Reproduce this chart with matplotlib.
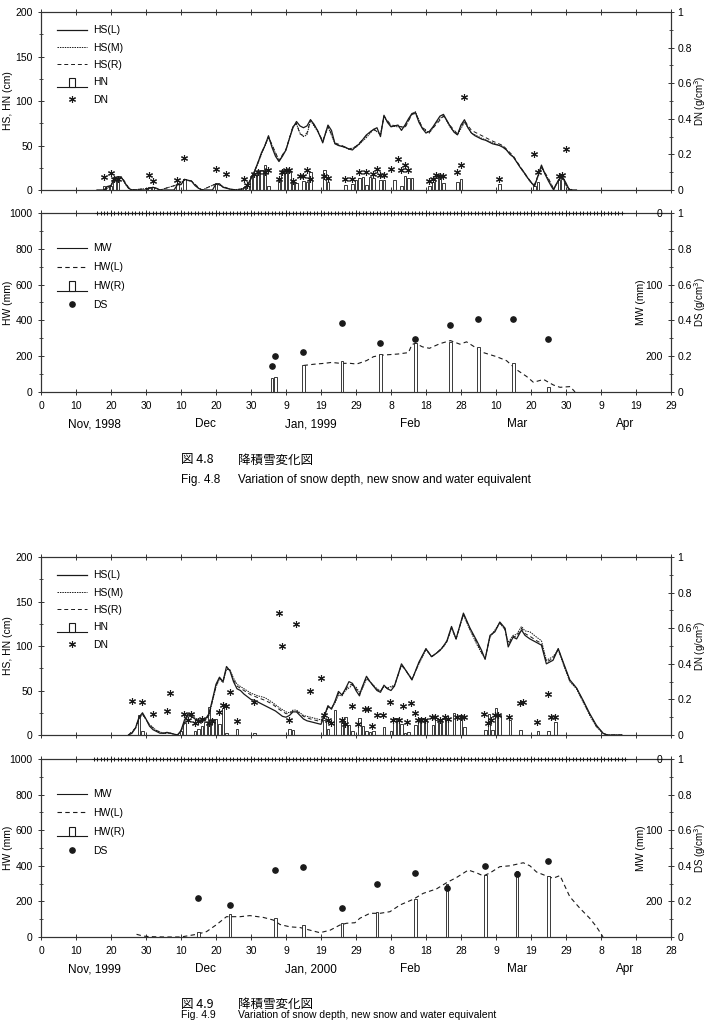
import numpy as np
import matplotlib
matplotlib.use('Agg')
import matplotlib.pyplot as plt
from matplotlib.legend_handler import HandlerBase
from matplotlib.lines import Line2D
from matplotlib.patches import Rectangle
from matplotlib.ticker import MultipleLocator
from matplotlib.transforms import blended_transform_factory

plt.rcParams['font.family'] = ['Liberation Sans', 'DejaVu Sans']
plt.rcParams['font.size'] = 7.5

# day 0 = last day of October

# ---------------- winter 1998-99 ----------------
hs_l_98 = [(16, 0), (18, 0), (19, 4), (20, 5), (21, 14), (22, 15), (23, 14), (24, 8), (25, 2), (26, 0),
           (30, 0), (31, 2), (32, 3), (33, 2), (34, 0), (38, 0), (39, 6), (40, 6), (41, 12), (42, 11),
           (43, 10), (44, 5), (45, 2), (46, 0), (49, 0), (50, 7), (51, 7), (52, 3), (53, 2), (54, 1),
           (56, 0), (57, 0), (58, 2), (59, 5), (60, 13), (61, 21), (62, 31), (63, 42), (64, 50), (65, 61),
           (66, 48), (67, 38), (68, 32), (69, 38), (70, 45), (71, 58), (72, 70), (73, 77), (74, 72), (75, 70),
           (76, 72), (77, 79), (78, 74), (79, 67), (80, 58), (80.5, 53), (81, 60), (82, 73), (83, 67), (84, 52),
           (85, 50), (86, 49), (87, 48), (88, 46), (89, 45), (90, 49), (91, 52), (92, 57), (93, 62), (94, 65),
           (95, 68), (96, 70), (97, 60), (98, 84), (99, 76), (100, 71), (101, 72), (102, 73), (103, 67),
           (104, 73), (105, 80), (106, 86), (107, 87), (108, 76), (109, 69), (110, 64), (111, 66), (112, 71),
           (113, 77), (114, 83), (115, 85), (116, 78), (117, 71), (118, 65), (119, 62), (120, 73), (121, 79),
           (122, 70), (123, 64), (124, 61), (125, 59), (126, 57), (127, 56), (128, 54), (129, 52), (130, 51),
           (131, 50), (132, 48), (133, 45), (134, 40), (135, 37), (136, 31), (137, 25), (138, 20), (139, 14),
           (140, 9), (141, 4), (142, 16), (143, 28), (144, 18), (145, 10), (146, 3), (146.5, 0), (147, 5),
           (148, 12), (149, 15), (150, 8), (151, 0), (153, 0)]
hs_m_98 = [(18, 0), (20, 4), (21, 13), (23, 14), (24, 7), (25, 2), (26, 0), (31, 2), (32, 3), (34, 0),
           (39, 6), (41, 11), (43, 10), (45, 2), (46, 0), (50, 7), (51, 6), (53, 2), (55, 0), (58, 2),
           (59, 5), (61, 20), (63, 40), (65, 59), (66, 50), (68, 33), (70, 45), (72, 72), (73, 74), (74, 64),
           (75, 60), (76, 62), (77, 78), (79, 66), (80.5, 54), (82, 71), (84, 52), (86, 49), (88, 46),
           (90, 48), (93, 59), (95, 68), (97, 63), (98, 82), (100, 72), (102, 71), (104, 71), (106, 85),
           (107, 88), (109, 69), (111, 64), (113, 76), (115, 84), (117, 70), (119, 62), (121, 76), (123, 64),
           (126, 58), (129, 53), (132, 49), (135, 37), (138, 19), (140, 8), (141, 5), (143, 25), (145, 12),
           (146.5, 1), (148, 11), (149, 14), (150.5, 2), (152, 0)]
hs_r_98 = [(18, 0), (20, 5), (21, 14), (23, 15), (24, 9), (25, 3), (26, 0), (31, 2), (32, 3), (34, 0),
           (39, 6), (41, 12), (43, 10), (45, 3), (46, 0), (50, 7), (52, 4), (54, 1), (56, 0), (58, 2),
           (59, 5), (61, 21), (63, 41), (65, 60), (66, 51), (68, 33), (70, 46), (72, 71), (73, 75), (74, 63),
           (75, 61), (76, 64), (77, 79), (79, 67), (80.5, 55), (82, 72), (84, 53), (86, 50), (88, 46),
           (90, 49), (93, 61), (95, 69), (97, 62), (98, 83), (100, 73), (102, 72), (104, 70), (106, 85),
           (107, 86), (109, 70), (111, 65), (113, 74), (115, 83), (117, 72), (119, 63), (121, 78), (123, 67),
           (126, 61), (129, 55), (132, 50), (135, 38), (138, 20), (140, 9), (141, 6), (143, 26), (145, 13),
           (146.5, 1), (148, 12), (149, 15), (150.5, 1), (152, 0)]
hn_98 = [(18, 5), (19, 5), (20, 5), (21, 15), (22, 14), (31, 3), (32, 3), (39, 7), (41, 12), (50, 7),
         (58, 3), (59, 5), (60, 16), (61, 17), (62, 22), (63, 22), (64, 28), (65, 5), (68, 13), (69, 22),
         (70, 20), (71, 20), (72, 11), (73, 8), (75, 10), (76, 9), (77, 20), (81, 22), (82, 9), (87, 6),
         (89, 7), (90, 11), (91, 13), (92, 15), (93, 6), (94, 15), (95, 13), (97, 11), (98, 11), (101, 11),
         (103, 5), (104, 16), (105, 13), (106, 13), (111, 5), (112, 9), (113, 14), (114, 15), (115, 8),
         (119, 9), (120, 12), (131, 7), (141, 5), (142, 9), (148, 11), (149, 12)]
dn_98 = [(18, 0.075), (20, 0.097), (21, 0.06), (22, 0.06), (31, 0.084), (32, 0.05), (39, 0.055),
         (41, 0.18), (50, 0.12), (53, 0.09), (58, 0.06), (59, 0.03), (61, 0.09), (62, 0.1), (64, 0.1),
         (65, 0.11), (68, 0.06), (69, 0.1), (70, 0.11), (71, 0.11), (72, 0.05), (74, 0.08), (75, 0.08),
         (76, 0.11), (77, 0.06), (81, 0.08), (82, 0.065), (87, 0.062), (89, 0.062), (91, 0.1), (93, 0.1),
         (95, 0.09), (96, 0.12), (97, 0.086), (98, 0.086), (100, 0.12), (102, 0.174), (103, 0.11),
         (104, 0.14), (105, 0.11), (111, 0.05), (112, 0.06), (113, 0.085), (114, 0.08), (115, 0.08),
         (119, 0.1), (120, 0.14), (121, 0.52), (131, 0.06), (141, 0.2), (142, 0.1), (148, 0.08),
         (149, 0.085), (150, 0.23)]
hw_l_98 = [(75, 148), (78, 155), (81, 160), (83, 165), (85.5, 160), (88.3, 160), (90.2, 156), (93, 175),
           (95, 197), (97, 205), (102, 212), (105, 220), (106, 265), (107, 272), (109, 252), (111, 244),
           (114, 270), (117, 287), (119.7, 267), (121.6, 280), (124.5, 244), (126.4, 220), (130.2, 197),
           (133, 175), (136, 123), (138.8, 86), (140.7, 54), (143.6, 70), (146.4, 39), (148.3, 26),
           (151.2, 30), (152.6, 0)]
hw_r_98 = [(66, 80), (67, 82), (75, 151), (86, 173), (97, 210), (107, 272), (117, 278), (125, 250),
           (135, 160), (145, 26)]
ds_98 = [(66, 0.145), (67, 0.2), (75, 0.222), (86, 0.385), (97, 0.272), (107, 0.298), (117, 0.374),
         (125, 0.408), (135, 0.408), (145, 0.294)]
mw_days_98 = np.arange(16, 167)
mw_98 = np.zeros(len(mw_days_98))
ticks_98 = ['0', '10', '20', '30', '10', '20', '30', '9', '19', '29', '8', '18', '28',
            '10', '20', '30', '9', '19', '29']
months_98 = ['Nov, 1998', 'Dec', 'Jan, 1999', 'Feb', 'Mar', 'Apr']

# ---------------- winter 1999-2000 ----------------
hs_l_99 = [(25, 0), (26, 2), (27, 8), (28, 20), (29, 25), (30, 18), (31, 10), (32, 6), (33, 4), (34, 2),
           (35, 2), (36, 3), (37, 2), (38, 1), (39, 0), (40, 5), (41, 17), (42, 24), (43, 21), (44, 18),
           (45, 16), (46, 15), (47, 18), (48, 24), (49, 40), (50, 57), (51, 65), (52, 60), (53, 77), (54, 72),
           (55, 60), (56, 52), (57, 50), (58, 46), (59, 43), (60, 40), (61, 39), (62, 37), (63, 35), (64, 33),
           (65, 31), (66, 29), (67, 27), (68, 24), (69, 21), (70, 20), (71, 22), (72, 26), (73, 26), (74, 22),
           (75, 18), (76, 16), (77, 15), (78, 14), (79, 13), (80, 12), (81, 22), (82, 33), (83, 29), (84, 38),
           (85, 49), (86, 45), (87, 52), (88, 60), (89, 58), (90, 50), (91, 44), (91.6, 52), (93, 66),
           (94, 60), (95, 55), (96, 50), (97, 48), (98, 56), (99, 52), (100, 50), (101, 55), (103, 80),
           (104, 74), (105, 68), (106, 62), (108, 82), (110, 97), (111.6, 88), (113, 92), (114, 95),
           (115, 100), (116, 106), (117.3, 122), (118.6, 108), (120.7, 137), (122.6, 120), (124.5, 106),
           (125.9, 95), (126.9, 85), (128.3, 112), (129.7, 116), (131.1, 127), (132.6, 120), (133.5, 99),
           (134.9, 110), (135.9, 108), (137.3, 118), (138.3, 112), (139.7, 108), (141.6, 104), (143, 101),
           (144.4, 80), (146.3, 84), (147.8, 97), (149.2, 82), (151.1, 62), (153, 53), (154.9, 39),
           (156.8, 24), (158.7, 11), (160.6, 2), (161.6, 0), (166, 0)]
hs_m_99 = [(25, 0), (27, 7), (28, 18), (29, 23), (31, 12), (33, 5), (35, 2), (37, 2), (39, 0), (40, 4),
           (42, 22), (44, 19), (46, 16), (47, 17), (48, 22), (49, 38), (50, 54), (51, 63), (52, 59), (53, 74),
           (54, 73), (55, 64), (56, 57), (58, 52), (60, 47), (62, 44), (64, 42), (66, 37), (68, 31), (70, 26),
           (71, 25), (72, 28), (73, 28), (75, 22), (77, 20), (79, 18), (80, 17), (81, 21), (82, 31), (83, 30),
           (84, 36), (85, 45), (86, 44), (87, 50), (88, 53), (89, 56), (90, 54), (91, 48), (91.6, 50),
           (93, 63), (94, 60), (95, 56), (96, 52), (97, 50), (98, 54), (99, 53), (101, 56), (103, 78),
           (104, 74), (106, 63), (108, 80), (110, 96), (111.6, 88), (113, 92), (115, 99), (116, 105),
           (117.3, 120), (118.6, 108), (120.7, 135), (122.6, 118), (124.5, 102), (125.9, 92), (126.9, 86),
           (128.3, 110), (129.7, 118), (131.1, 126), (132.6, 118), (133.5, 104), (134.9, 112), (135.9, 113),
           (137.3, 122), (138.3, 117), (139.7, 116), (141.6, 110), (143, 106), (144.4, 84), (146.3, 88),
           (147.8, 96), (149.2, 80), (151.1, 60), (153, 52), (154.9, 37), (156.8, 22), (158.7, 9),
           (160.6, 2), (162, 0), (166, 0)]
hs_r_99 = [(25, 0), (27, 8), (28, 19), (29, 24), (31, 11), (33, 5), (35, 2), (37, 2), (39, 0), (40, 5),
           (42, 23), (44, 18), (46, 15), (47, 17), (48, 23), (49, 39), (50, 55), (51, 64), (52, 60), (53, 75),
           (54, 73), (55, 62), (56, 55), (58, 50), (60, 45), (62, 42), (64, 39), (66, 35), (68, 29), (70, 24),
           (71, 24), (72, 27), (73, 27), (75, 21), (77, 18), (79, 16), (80, 15), (81, 22), (82, 32), (83, 30),
           (84, 37), (85, 47), (86, 45), (87, 51), (88, 56), (89, 57), (90, 52), (91, 46), (91.6, 51),
           (93, 65), (94, 60), (95, 55), (96, 51), (97, 49), (98, 55), (99, 52), (101, 55), (103, 79),
           (104, 74), (106, 62), (108, 81), (110, 97), (111.6, 88), (113, 92), (115, 100), (116, 105),
           (117.3, 121), (118.6, 108), (120.7, 136), (122.6, 119), (124.5, 104), (125.9, 93), (126.9, 86),
           (128.3, 111), (129.7, 117), (131.1, 126), (132.6, 119), (133.5, 101), (134.9, 111), (135.9, 110),
           (137.3, 120), (138.3, 114), (139.7, 111), (141.6, 106), (143, 103), (144.4, 82), (146.3, 86),
           (147.8, 97), (149.2, 81), (151.1, 61), (153, 53), (154.9, 38), (156.8, 23), (158.7, 10),
           (160.6, 2), (162, 0), (166, 0)]
hn_99 = [(28, 22), (29, 4), (40, 5), (41, 14), (44, 4), (45, 7), (46, 10), (47, 15), (48, 32), (49, 18),
         (50, 18), (51, 12), (52, 30), (53, 2), (56, 7), (61, 2), (71, 7), (72, 6), (81, 17), (82, 7),
         (84, 28), (86, 15), (87, 20), (88, 11), (89, 4), (91, 19), (92, 10), (93, 4), (94, 3), (95, 4),
         (98, 9), (100, 4), (101, 19), (102, 19), (103, 12), (104, 2), (105, 3), (107, 11), (108, 19),
         (109, 19), (110, 17), (112, 11), (113, 17), (114, 15), (115, 18), (116, 21), (118, 25), (120, 22),
         (121, 9), (127, 6), (128, 24), (129, 6), (130, 30), (131, 22), (134, 17), (137, 6), (142, 4),
         (145, 5), (147, 15)]
dn_99 = [(26, 0.19), (29, 0.187), (32, 0.118), (36, 0.137), (37, 0.234), (41, 0.117), (42, 0.084),
         (43, 0.12), (44, 0.07), (45, 0.08), (46, 0.09), (48, 0.07), (49, 0.08), (51, 0.13), (52, 0.168),
         (53, 0.165), (54, 0.24), (56, 0.079), (61, 0.187), (68, 0.684), (69, 0.5), (71, 0.084),
         (73, 0.624), (77, 0.247), (80, 0.318), (81, 0.11), (82, 0.084), (83, 0.07), (86, 0.084),
         (87, 0.06), (88.8, 0.163), (90.5, 0.06), (92.5, 0.144), (93.5, 0.144), (94.6, 0.05), (95.9, 0.112),
         (97.8, 0.11), (99.7, 0.187), (100.7, 0.084), (102.4, 0.084), (103.5, 0.163), (104.7, 0.075),
         (105.7, 0.178), (106.8, 0.125), (107.7, 0.084), (108.7, 0.084), (109.6, 0.084), (111.6, 0.1),
         (112.5, 0.1), (114, 0.084), (115.4, 0.1), (116.4, 0.09), (118.8, 0.1), (120, 0.1), (120.9, 0.1),
         (126.6, 0.12), (127.8, 0.065), (128.7, 0.084), (129.7, 0.11), (130.6, 0.11), (133.8, 0.1),
         (136.9, 0.178), (137.8, 0.187), (141.8, 0.075), (144.9, 0.23), (145.6, 0.1), (146.8, 0.1)]
hw_l_99 = [(27.3, 15), (29.2, 5), (31, 2), (35, 0), (40, 0), (44.5, 15), (47.3, 30), (50.2, 70), (53, 114),
           (56.9, 114), (59.7, 120), (63.5, 110), (66.4, 95), (68.3, 70), (71.1, 57), (74, 53), (76.9, 38),
           (79.7, 24), (82.6, 38), (85.4, 67), (87.3, 77), (89.7, 80), (91.1, 105), (94, 133), (96.9, 133),
           (99.7, 142), (102.6, 180), (106.4, 212), (109.2, 245), (113, 270), (115.9, 305), (118.8, 335),
           (122.1, 376), (124.5, 360), (126.4, 343), (128.3, 360), (131.1, 395), (134, 400), (137.8, 417),
           (139.7, 400), (141.6, 365), (144.4, 343), (146.3, 330), (148.3, 345), (151.1, 226), (154, 161),
           (156.8, 105), (158.7, 58), (160.6, 0)]
hw_r_99 = [(45, 26), (54, 127), (67, 105), (75, 67), (86, 77), (96, 142), (107, 212), (116, 298),
           (127, 348), (136, 371), (145, 344)]
ds_99 = [(45, 0.221), (54, 0.18), (67, 0.376), (75, 0.395), (86, 0.161), (96, 0.298), (107, 0.358),
         (116, 0.277), (127, 0.399), (136, 0.354), (145, 0.429)]
mw_days_99 = np.arange(15, 168)
mw_99 = np.zeros(len(mw_days_99))
ticks_99 = ['0', '10', '20', '30', '10', '20', '30', '9', '19', '29', '8', '18', '28',
            '9', '19', '29', '8', '18', '28']
months_99 = ['Nov, 1999', 'Dec', 'Jan, 2000', 'Feb', 'Mar', 'Apr']
month_pos = [15.4, 47, 77, 105.5, 136, 167]

AST = (6, 2, 0)  # asterisk marker
INK = '#1a1a1a'


class HandlerBar(HandlerBase):
    def create_artists(self, legend, orig_handle, xdescent, ydescent, width, height, fontsize, trans):
        x0, y0 = -xdescent, -ydescent - 1
        base = Line2D([x0, x0 + width], [y0, y0], color=INK, lw=0.8, transform=trans)
        bw = width * 0.2
        bar = Rectangle((x0 + (width - bw) / 2, y0), bw, height * 1.25, facecolor='white',
                        edgecolor=INK, lw=0.8, transform=trans)
        return [base, bar]


def xy(pts):
    return [p[0] for p in pts], [p[1] for p in pts]


def style_axis(ax):
    for s in ax.spines.values():
        s.set_linewidth(0.8)
        s.set_color('#333333')
    ax.tick_params(which='both', direction='inout', colors='#333333', labelcolor='black')
    ax.tick_params(which='major', length=5, width=0.7)
    ax.tick_params(which='minor', length=3, width=0.6)


def setup_x(ax, labels=None):
    ax.set_xlim(0, 180)
    ax.set_xticks(range(0, 181, 10))
    ax.tick_params(axis='x', top=True, pad=4)
    if labels is None:
        ax.set_xticklabels([])
    else:
        ax.set_xticklabels(labels, fontsize=7.5)


def right_density(ax, label):
    axr = ax.twinx()
    axr.set_ylim(0, 1)
    axr.set_yticks([0, 0.2, 0.4, 0.6, 0.8, 1])
    axr.set_yticklabels(['0', '0.2', '0.4', '0.6', '0.8', '1'])
    axr.yaxis.set_minor_locator(MultipleLocator(0.1))
    style_axis(axr)
    axr.tick_params(axis='y', pad=2)
    axr.set_ylabel(label, fontsize=7)
    axr.yaxis.set_label_coords(1.046, 0.5)
    axr.yaxis.label.set_va('center')
    return axr


def left_label(ax, text):
    ax.set_ylabel(text)
    ax.yaxis.set_label_coords(-0.052, 0.5)
    ax.yaxis.label.set_va('center')


def hs_panel(ax, hs_l, hs_m, hs_r, hn, dn):
    style_axis(ax)
    setup_x(ax)
    ax.set_ylim(0, 200)
    ax.set_yticks([0, 50, 100, 150, 200])
    ax.yaxis.set_minor_locator(MultipleLocator(25))
    left_label(ax, 'HS, HN (cm)')
    d, v = xy(hn)
    ax.bar(d, v, width=0.75, facecolor='white', edgecolor=INK, linewidth=0.6, zorder=2)
    l1, = ax.plot(*xy(hs_l), color=INK, lw=0.9, zorder=3, label='HS(L)')
    l2, = ax.plot(*xy(hs_m), color=INK, lw=0.7, ls=(0, (1.5, 1)), zorder=3, label='HS(M)')
    l3, = ax.plot(*xy(hs_r), color=INK, lw=0.7, ls=(0, (4, 3)), zorder=3, label='HS(R)')
    axr = right_density(ax, 'DN (g/cm$^3$)')
    d, v = xy(dn)
    p, = axr.plot(d, v, ls='none', marker=AST, ms=5, mew=0.8, color=INK, label='DN')
    bar_proxy = Rectangle((0, 0), 1, 1)
    axr.legend([l1, l2, l3, bar_proxy, p], ['HS(L)', 'HS(M)', 'HS(R)', 'HN', 'DN'],
               handler_map={bar_proxy: HandlerBar()}, loc='upper left',
               bbox_to_anchor=(0.025, 0.925), frameon=False, borderpad=0, borderaxespad=0,
               handlelength=2.9, handletextpad=0.6, labelspacing=0.7, fontsize=7.5)


def hw_panel(ax, hw_l, hw_r, ds, mw_days, mw, ticks, months):
    style_axis(ax)
    setup_x(ax, ticks)
    ax.set_ylim(0, 1000)
    ax.set_yticks(range(0, 1001, 200))
    ax.yaxis.set_minor_locator(MultipleLocator(100))
    left_label(ax, 'HW (mm)')
    l2, = ax.plot(*xy(hw_l), color=INK, lw=0.8, ls=(0, (4, 3)), zorder=2, label='HW(L)')
    d, v = xy(hw_r)
    ax.bar(d, v, width=0.8, facecolor='white', edgecolor=INK, linewidth=0.6, zorder=3)

    axd = right_density(ax, 'DS (g/cm$^3$)')
    d, v = xy(ds)
    p, = axd.plot(d, v, ls='none', marker='o', ms=3.8, color=INK, label='DS')

    axm = ax.twinx()
    axm.set_ylim(250, 0)
    for s in axm.spines.values():
        s.set_visible(False)
    axm.spines['left'].set_position(('axes', 1.0))
    axm.yaxis.set_ticks_position('left')
    axm.set_yticks([0, 100, 200])
    axm.tick_params(axis='y', length=0, pad=6)
    axm.set_ylabel('MW (mm)')
    axm.yaxis.set_label_coords(0.952, 0.5)
    axm.yaxis.label.set_va('center')
    l1, = axm.plot(mw_days, mw, color=INK, lw=0.8, marker='+', ms=3.5, mew=0.7,
                   clip_on=False, label='MW')

    bar_proxy = Rectangle((0, 0), 1, 1)
    l1_leg = Line2D([], [], color=INK, lw=0.8)
    axm.legend([l1_leg, l2, bar_proxy, p], ['MW', 'HW(L)', 'HW(R)', 'DS'],
               handler_map={bar_proxy: HandlerBar()}, loc='upper left',
               bbox_to_anchor=(0.025, 0.83), frameon=False, borderpad=0, borderaxespad=0,
               handlelength=2.9, handletextpad=0.6, labelspacing=0.85, fontsize=7.5)

    tr = blended_transform_factory(ax.transData, ax.transAxes)
    for xm, name in zip(month_pos, months):
        ax.text(xm, -0.18, name, transform=tr, ha='center', va='center', fontsize=8.5)


fig = plt.figure(figsize=(7.07, 10.21), dpi=100)
ax1 = fig.add_axes([0.058, 0.8139, 0.891, 0.1743])
ax2 = fig.add_axes([0.058, 0.6161, 0.891, 0.1753])
ax3 = fig.add_axes([0.058, 0.2801, 0.891, 0.1743])
ax4 = fig.add_axes([0.058, 0.0823, 0.891, 0.1743])

hs_panel(ax1, hs_l_98, hs_m_98, hs_r_98, hn_98, dn_98)
hw_panel(ax2, hw_l_98, hw_r_98, ds_98, mw_days_98, mw_98, ticks_98, months_98)
hs_panel(ax3, hs_l_99, hs_m_99, hs_r_99, hn_99, dn_99)
hw_panel(ax4, hw_l_99, hw_r_99, ds_99, mw_days_99, mw_99, ticks_99, months_99)

jp = ['Noto Sans CJK JP', 'DejaVu Sans']
for y1, y2, num, fs in [(0.5495, 0.5299, '4.8', 8.5), (0.0165, 0.0055, '4.9', 7.5)]:
    fig.text(0.256, y1, '図 ' + num, family=jp, fontsize=9, va='center')
    fig.text(0.337, y1, '降積雪変化図', family=jp, fontsize=9, va='center')
    fig.text(0.256, y2, 'Fig. ' + num, fontsize=fs, va='center')
    fig.text(0.337, y2, 'Variation of snow depth, new snow and water equivalent',
             fontsize=fs, va='center')

fig.savefig('out.png', dpi=100)
